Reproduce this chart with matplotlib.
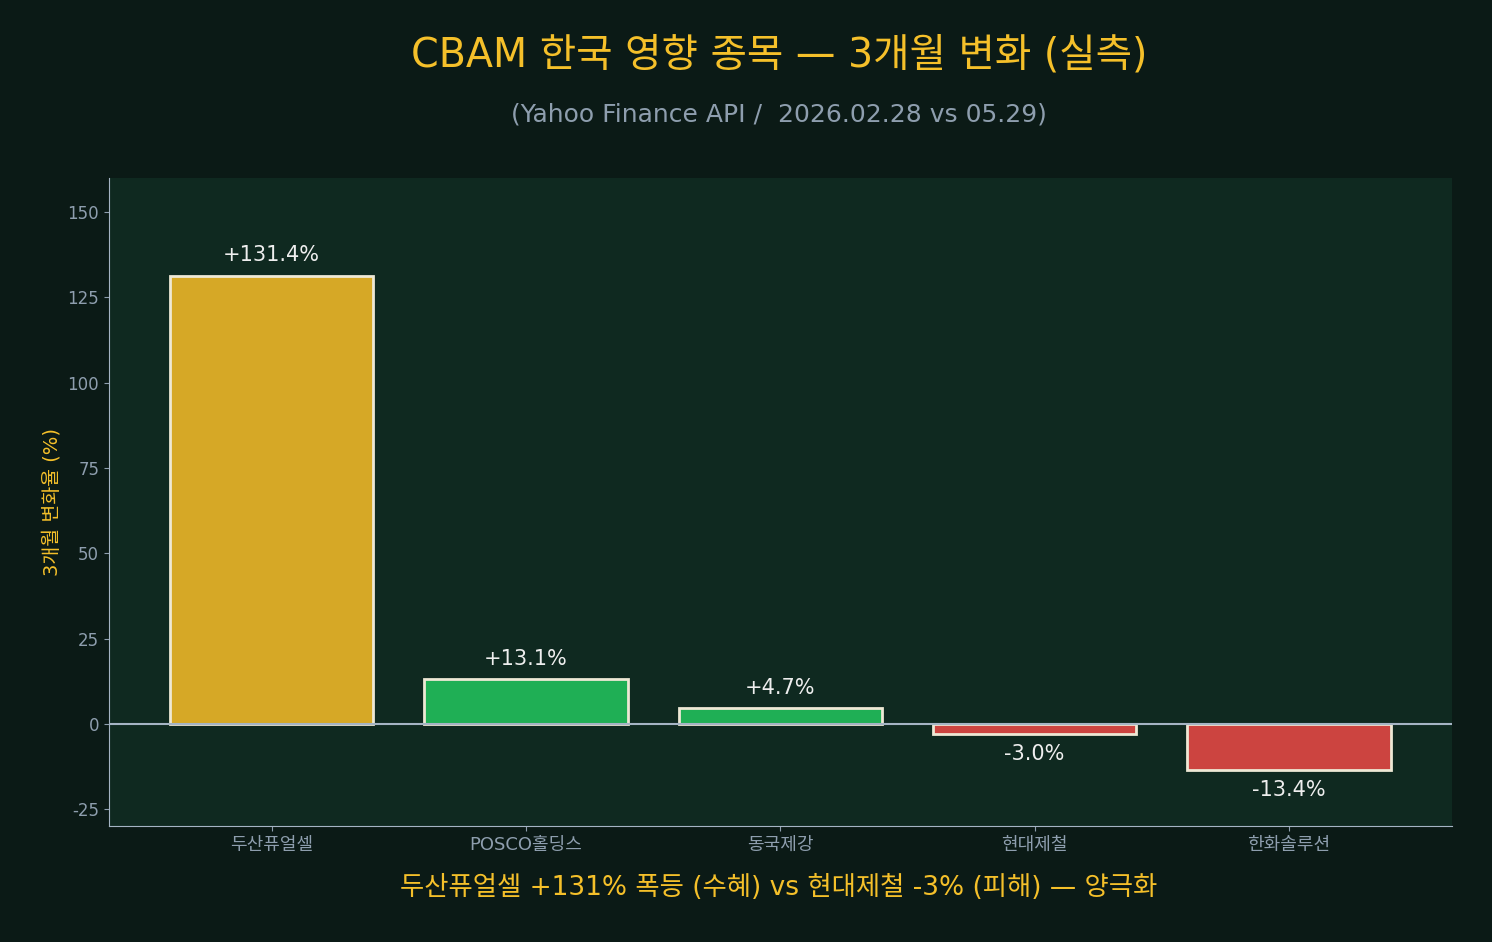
import matplotlib
matplotlib.use("Agg")
import matplotlib.pyplot as plt

plt.rcParams['font.family'] = ['DejaVu Sans', 'Noto Sans CJK KR']
plt.rcParams['axes.unicode_minus'] = False

stocks = ['두산퓨얼셀', 'POSCO홀딩스', '동국제강', '현대제철', '한화솔루션']
changes = [131.4, 13.1, 4.7, -3.0, -13.4]
colors = ['#D6A826', '#1FAF55', '#1FAF55', '#CC4440', '#CC4440']

fig_bg = '#0B1A16'
ax_bg = '#0F2920'
gold = '#F5C02A'
gray = '#8E9EAE'

fig, ax = plt.subplots(figsize=(14.92, 9.42), dpi=100)
fig.patch.set_facecolor(fig_bg)
ax.set_facecolor(ax_bg)
fig.subplots_adjust(left=0.073, right=0.973, top=0.811, bottom=0.123)

x = range(len(stocks))
bars = ax.bar(x, changes, width=0.8, color=colors, edgecolor='#EEE8D5', linewidth=2, zorder=3)
ax.axhline(0, color='#A5B4C4', linewidth=1.5, zorder=4)

for b, v in zip(bars, changes):
    if v >= 0:
        ax.text(b.get_x() + b.get_width() / 2, v + 3, f'+{v:.1f}%', ha='center', va='bottom',
                color='#EEEEEE', fontsize=15)
    else:
        ax.text(b.get_x() + b.get_width() / 2, v - 3, f'{v:.1f}%', ha='center', va='top',
                color='#EEEEEE', fontsize=15)

ax.set_xticks(list(x))
ax.set_xticklabels(stocks, color=gray, fontsize=13)
ax.set_ylim(-30, 160)
ax.set_yticks([-25, 0, 25, 50, 75, 100, 125, 150])
ax.tick_params(axis='y', colors=gray, labelsize=12)
ax.tick_params(axis='x', colors=gray)
ax.set_ylabel('3개월 변화율 (%)', color=gold, fontsize=14)

for s in ['top', 'right']:
    ax.spines[s].set_visible(False)
for s in ['left', 'bottom']:
    ax.spines[s].set_color('#A5B4C4')

fig.text(0.522, 0.941, 'CBAM 한국 영향 종목 — 3개월 변화 (실측)', ha='center', va='center',
         color=gold, fontsize=28.5)
fig.text(0.522, 0.878, '(Yahoo Finance API /  2026.02.28 vs 05.29)', ha='center', va='center',
         color=gray, fontsize=18)
fig.text(0.522, 0.057, '두산퓨얼셀 +131% 폭등 (수혜) vs 현대제철 -3% (피해) — 양극화', ha='center',
         va='center', color=gold, fontsize=19)

plt.savefig('out.png', dpi=100, facecolor=fig_bg)
